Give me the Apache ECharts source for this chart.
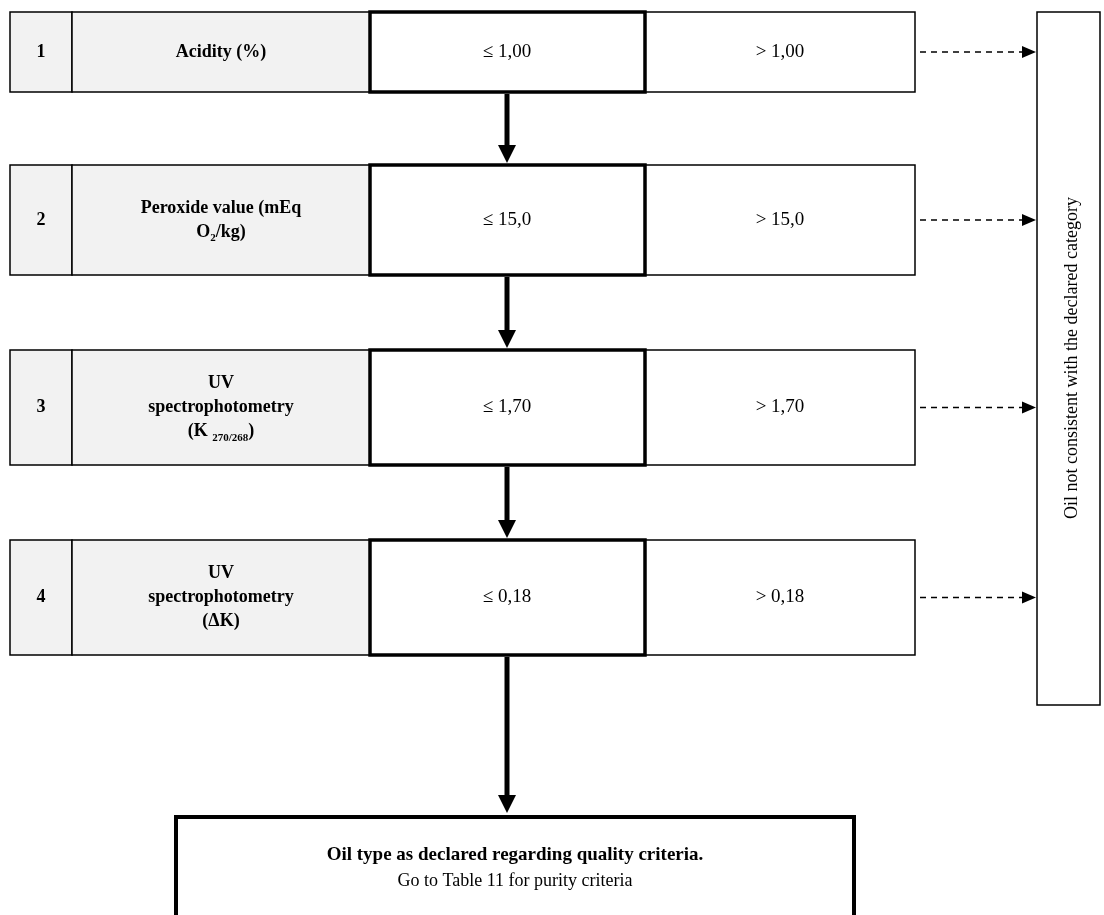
<!DOCTYPE html>
<html><head><meta charset="utf-8">
<script src="https://cdn.jsdelivr.net/npm/echarts@6/dist/echarts.min.js"></script>
<style>html,body{margin:0;background:#fff}#c{width:1104px;height:915px}</style>
</head><body><div id="c"></div>
<script>
// flow steps
const stepNumbers = ['1', '2', '3', '4'];
const stepLabels = [
  '{b|Acidity (%)}',
  '{b|Peroxide value (mEq}\n{b|O}{s|2}{b|/kg)}',
  '{b|UV}\n{b|spectrophotometry}\n{b|(K }{s|270/268}{b|)}',
  '{b|UV}\n{b|spectrophotometry}\n{b|(ΔK)}'
];
const passLimits = ['≤ 1,00', '≤ 15,0', '≤ 1,70', '≤ 0,18'];
const failLimits = ['> 1,00', '> 15,0', '> 1,70', '> 0,18'];
const rejectText = 'Oil not consistent with the declared category';
const finalText = ['Oil type as declared regarding quality criteria.', 'Go to Table 11 for purity criteria'];

const rowTops = [12, 165, 350, 540];
const rowBottoms = [92, 275, 465, 655];
const font = '"Liberation Serif", "DejaVu Serif", serif';

const chart = echarts.init(document.getElementById('c'));
const g = [];
function box(x, y, w, h, fill, lw) {
  g.push({ type: 'rect', shape: { x, y, width: w, height: h },
    style: { fill, stroke: '#000', lineWidth: lw } });
}
function txt(x, y, text, size, weight, rich) {
  g.push({ type: 'text', x, y, style: { text, fontFamily: font, fontSize: size, fontWeight: weight,
    fill: '#000', align: 'center', verticalAlign: 'middle', rich, lineHeight: size + 6 } });
}
function arrowDown(x, y1, y2) {
  g.push({ type: 'line', shape: { x1: x, y1, x2: x, y2: y2 - 14 }, style: { stroke: '#000', lineWidth: 5 } });
  g.push({ type: 'polygon', shape: { points: [[x - 9, y2 - 18], [x + 9, y2 - 18], [x, y2]] }, style: { fill: '#000' } });
}
const rich = { b: { fontFamily: font, fontSize: 18, fontWeight: 'bold', lineHeight: 24 },
               s: { fontFamily: font, fontSize: 11, fontWeight: 'bold', lineHeight: 24, verticalAlign: 'bottom' } };

stepNumbers.forEach((n, i) => {
  const y = rowTops[i], h = rowBottoms[i] - rowTops[i], cy = y + h / 2;
  box(10, y, 62, h, '#f2f2f2', 1.5);
  box(72, y, 298, h, '#f2f2f2', 1.5);
  box(645, y, 270, h, '#fff', 1.5);
  box(370, y, 275, h, '#fff', 3.5);
  txt(41, cy, n, 18, 'bold');
  txt(221, cy, stepLabels[i], 18, 'bold', rich);
  txt(507, cy, passLimits[i], 19, 'normal');
  txt(780, cy, failLimits[i], 19, 'normal');
  g.push({ type: 'line', shape: { x1: 920, y1: cy, x2: 1022, y2: cy },
    style: { stroke: '#000', lineWidth: 1.5, lineDash: [6, 5] } });
  g.push({ type: 'polygon', shape: { points: [[1022, cy - 6], [1022, cy + 6], [1036, cy]] }, style: { fill: '#000' } });
  const next = i < 3 ? rowTops[i + 1] : 815;
  arrowDown(507, rowBottoms[i] + 2, next - 2);
});

box(1037, 12, 63, 693, '#fff', 1.5);
g.push({ type: 'text', x: 1072, y: 358, rotation: Math.PI / 2,
  style: { text: rejectText, fontFamily: font, fontSize: 18, fill: '#000', align: 'center', verticalAlign: 'middle' } });

box(176, 817, 678, 110, '#fff', 4);
g.push({ type: 'text', x: 515, y: 868, style: {
  text: '{b|' + finalText[0] + '}\n{n|' + finalText[1] + '}', align: 'center', verticalAlign: 'middle',
  rich: { b: { fontFamily: font, fontSize: 19, fontWeight: 'bold', lineHeight: 26 },
          n: { fontFamily: font, fontSize: 18, lineHeight: 26 } } } });

chart.setOption({ backgroundColor: '#fff', graphic: { elements: g } });
</script></body></html>
